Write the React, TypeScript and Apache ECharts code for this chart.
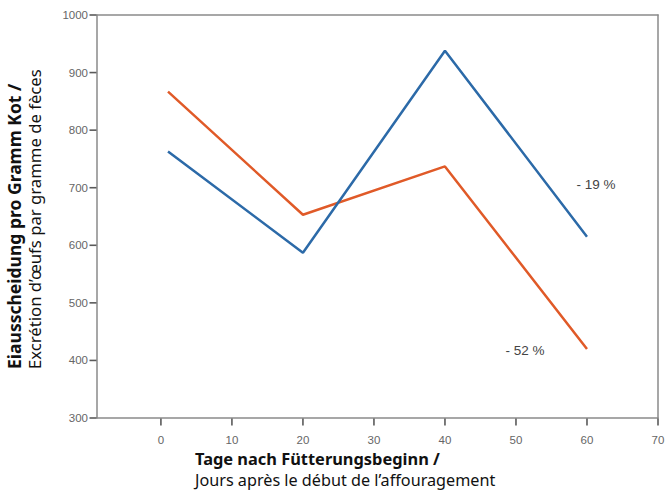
import React, { useEffect, useRef } from "react";
import * as echarts from "echarts";

const days = [1, 20, 40, 60];
const seriesA = [763, 587, 938, 615]; // blue
const seriesB = [867, 653, 737, 420]; // orange
const xTicks = [0, 10, 20, 30, 40, 50, 60, 70];
const yTicks = [300, 400, 500, 600, 700, 800, 900, 1000];
const X_MIN = -9;
const X_MAX = 70;
const Y_MIN = 300;
const Y_MAX = 1000;
const changeLabels = ["- 19 %", "- 52 %"];
const xTitle = ["Tage nach Fütterungsbeginn /", "Jours après le début de l’affouragement"];
const yTitle = ["Eiausscheidung pro Gramm Kot /", "Excrétion d’œufs par gramme de fèces"];

const BLUE = "#2c6aa8";
const ORANGE = "#e05a28";
const AXIS = "#8a8a8a";
const TICK = "#5a5a5a";
const TITLE_FONT = "'Noto Sans', 'Open Sans', sans-serif";
const TICK_FONT = "'Liberation Sans', Arial, sans-serif";

export default function App() {
  const ref = useRef<HTMLDivElement>(null);
  useEffect(() => {
    if (!ref.current) return;
    const chart = echarts.init(ref.current, undefined, { renderer: "svg" });
    const last = days.length - 1;
    const boxAxis = {
      show: true,
      axisLine: { show: true, onZero: false, lineStyle: { color: AXIS, width: 1.5 } },
      axisTick: { show: false },
      axisLabel: { show: false },
      splitLine: { show: false },
    };
    chart.setOption({
      animation: false,
      backgroundColor: "#fff",
      grid: {
        left: 97,
        right: 13,
        top: 15,
        bottom: 75,
      },
      xAxis: [
        {
          type: "value",
          position: "bottom",
          min: X_MIN,
          max: X_MAX,
          axisLine: { show: true, onZero: false, lineStyle: { color: AXIS, width: 1.5 } },
          axisTick: { show: false },
          axisLabel: {
            customValues: xTicks,
            margin: 16,
            color: "#666",
            fontSize: 11.5,
            fontFamily: TICK_FONT,
            formatter: (v: number) => String(v),
          },
          splitLine: { show: false },
        },
        { ...boxAxis, type: "value", position: "top", min: X_MIN, max: X_MAX },
      ],
      yAxis: [
        {
          type: "value",
          position: "left",
          min: Y_MIN,
          max: Y_MAX,
          interval: 100,
          axisLine: { show: true, onZero: false, lineStyle: { color: AXIS, width: 1.5 } },
          axisTick: { show: false },
          axisLabel: {
            margin: 9,
            color: "#666",
            fontSize: 11.5,
            fontFamily: TICK_FONT,
            formatter: (v: number) => String(v),
          },
          splitLine: { show: false },
        },
        { ...boxAxis, type: "value", position: "right", min: Y_MIN, max: Y_MAX },
      ],
      series: [
        {
          type: "scatter",
          silent: true,
          clip: false,
          symbol: "rect",
          symbolSize: [1.6, 7],
          symbolOffset: [0, 4],
          itemStyle: { color: TICK, opacity: 1 },
          data: xTicks.map((t) => [t, Y_MIN]),
          z: 5,
        },
        {
          type: "scatter",
          silent: true,
          clip: false,
          symbol: "rect",
          symbolSize: [7, 1.6],
          symbolOffset: [-4, 0],
          itemStyle: { color: TICK, opacity: 1 },
          data: yTicks.map((t) => [X_MIN, t]),
          z: 5,
        },
        {
          type: "line",
          data: days.map((d, i) => ({
            value: [d, seriesA[i]],
            label:
              i === last
                ? { show: true, formatter: changeLabels[0], position: "inside", offset: [9, -52] }
                : { show: false },
          })),
          symbol: "circle",
          symbolSize: 0,
          showSymbol: true,
          lineStyle: { color: BLUE, width: 2.5 },
          itemStyle: { color: BLUE },
          label: { color: "#444", fontSize: 13.5, fontFamily: TICK_FONT },
          z: 3,
        },
        {
          type: "line",
          data: days.map((d, i) => ({
            value: [d, seriesB[i]],
            label:
              i === last
                ? { show: true, formatter: changeLabels[1], position: "inside", offset: [-62, 2] }
                : { show: false },
          })),
          symbol: "circle",
          symbolSize: 0,
          showSymbol: true,
          lineStyle: { color: ORANGE, width: 2.5 },
          itemStyle: { color: ORANGE },
          label: { color: "#444", fontSize: 13.5, fontFamily: TICK_FONT },
          z: 2,
        },
      ],
      graphic: [
        {
          type: "text",
          left: 195,
          top: 450,
          style: { text: xTitle[0], font: `bold 16.4px ${TITLE_FONT}`, fill: "#111" },
        },
        {
          type: "text",
          left: 195,
          top: 472,
          style: { text: xTitle[1], font: `16.2px ${TITLE_FONT}`, fill: "#111" },
        },
        {
          type: "text",
          x: 14,
          y: 369,
          rotation: Math.PI / 2,
          style: {
            text: yTitle[0],
            font: `bold 17.5px ${TITLE_FONT}`,
            fill: "#111",
            align: "left",
            verticalAlign: "middle",
          },
        },
        {
          type: "text",
          x: 34,
          y: 369,
          rotation: Math.PI / 2,
          style: {
            text: yTitle[1],
            font: `16.7px ${TITLE_FONT}`,
            fill: "#111",
            align: "left",
            verticalAlign: "middle",
          },
        },
      ],
    });
    return () => chart.dispose();
  }, []);
  return <div ref={ref} style={{ width: 671, height: 493, position: "absolute", left: 0, top: 0 }} />;
}
